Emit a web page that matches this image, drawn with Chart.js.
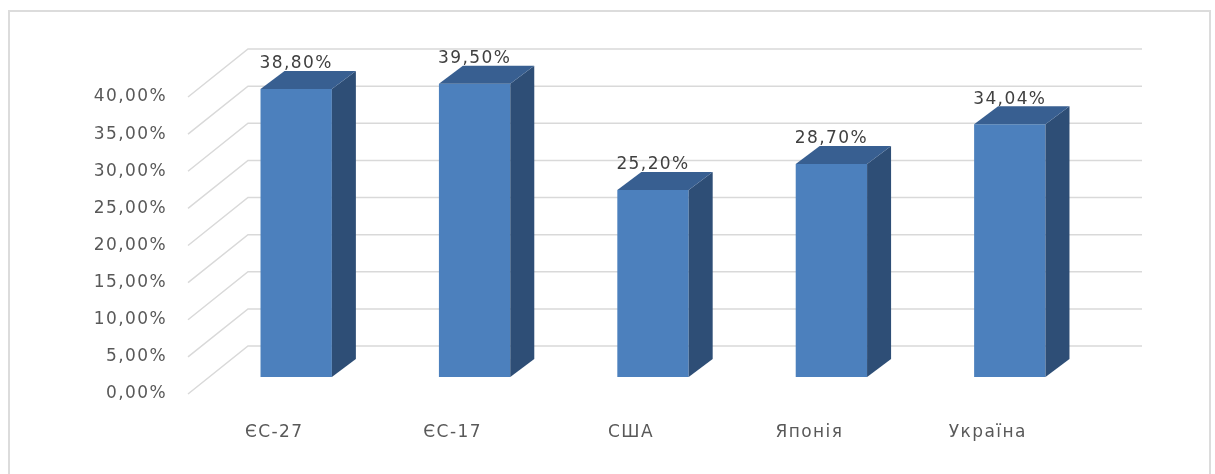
<!DOCTYPE html>
<html>
<head>
<meta charset="utf-8">
<script src="https://cdn.jsdelivr.net/npm/chart.js@4"></script>
<style>
  html, body { margin: 0; padding: 0; background: #fff; }
  #wrap { position: relative; width: 1215px; height: 474px; overflow: hidden; }
  #frame { position: absolute; left: 8px; top: 10px; width: 1203px; height: 480px;
           border: 2px solid #dcdcdc; box-sizing: border-box; }
  canvas { position: absolute; left: 0; top: 0; }
</style>
</head>
<body>
<div id="wrap">
  <div id="frame"></div>
  <canvas id="chart" width="1215" height="474"></canvas>
</div>
<script>
// Data
const categories = ['ЄС-27', 'ЄС-17', 'США', 'Японія', 'Україна'];
const shares = [38.8, 39.5, 25.2, 28.7, 34.04];
const yTicks = [0, 5, 10, 15, 20, 25, 30, 35, 40];

const FONT = 'DejaVu Sans';
const fmt = (v) => Number(v).toFixed(2).replace('.', ',') + '%';

// 3D look: depth of the bars and of the floor
const BAR_DX = 24, BAR_DY = 18;

const wallPlugin = {
  id: 'wall',
  beforeDraw(chart) {
    // the original text is a bit wider than DejaVu
    chart.ctx.letterSpacing = '1.4px';
  },
  beforeDatasetsDraw(chart) {
    const { ctx, chartArea } = chart;
    const y = chart.scales.y;
    ctx.save();
    ctx.strokeStyle = '#d9d9d9';
    ctx.lineWidth = 1.5;
    yTicks.forEach(v => {
      const py = y.getPixelForValue(v);
      ctx.beginPath();
      ctx.moveTo(chartArea.left - 19, py + 17);
      ctx.lineTo(chartArea.left + 41, py - 31);
      ctx.lineTo(chartArea.right + 43, py - 31);
      ctx.stroke();
    });
    ctx.restore();
  },
};

const boxPlugin = {
  id: 'box3d',
  afterDatasetsDraw(chart) {
    const { ctx } = chart;
    const meta = chart.getDatasetMeta(0);
    ctx.save();
    meta.data.forEach((bar, i) => {
      const l = bar.x - bar.width / 2, r = bar.x + bar.width / 2;
      const top = bar.y, base = bar.base;
      // side
      ctx.fillStyle = '#2e4e76';
      ctx.beginPath();
      ctx.moveTo(r, top);
      ctx.lineTo(r + BAR_DX, top - BAR_DY);
      ctx.lineTo(r + BAR_DX, base - BAR_DY);
      ctx.lineTo(r, base);
      ctx.closePath();
      ctx.fill();
      // top
      ctx.fillStyle = '#385f91';
      ctx.beginPath();
      ctx.moveTo(l, top);
      ctx.lineTo(l + BAR_DX, top - BAR_DY);
      ctx.lineTo(r + BAR_DX, top - BAR_DY);
      ctx.lineTo(r, top);
      ctx.closePath();
      ctx.fill();
      // value label
      ctx.fillStyle = '#404040';
      ctx.font = '17px "' + FONT + '"';
      ctx.textAlign = 'center';
      ctx.textBaseline = 'middle';
      ctx.fillText(fmt(shares[i]), bar.x, top - 25);
    });
    ctx.restore();
  },
};

new Chart(document.getElementById('chart'), {
  type: 'bar',
  data: {
    labels: categories,
    datasets: [{
      data: shares,
      backgroundColor: '#4c80bd',
      borderWidth: 0,
      barPercentage: 0.4,
      categoryPercentage: 1,
    }],
  },
  options: {
    responsive: false,
    animation: false,
    layout: { padding: { top: 80, right: 116, left: 0, bottom: 0 } },
    plugins: { legend: { display: false }, tooltip: { enabled: false } },
    scales: {
      x: {
        grid: { display: false, drawTicks: false },
        border: { display: false },
        afterFit: (s) => { s.height = 97; },
        ticks: {
          color: '#595959',
          font: { family: FONT, size: 17 },
          padding: 45,
          labelOffset: -22,
        },
      },
      y: {
        min: 0,
        max: 40,
        grid: { display: false, drawTicks: false },
        border: { display: false },
        afterFit: (s) => { s.width = 207; },
        afterBuildTicks: (s) => { s.ticks = yTicks.map(v => ({ value: v })); },
        ticks: {
          color: '#595959',
          font: { family: FONT, size: 17 },
          padding: 40,
          labelOffset: 17,
          callback: (v) => fmt(v),
        },
      },
    },
  },
  plugins: [wallPlugin, boxPlugin],
});
</script>
</body>
</html>
